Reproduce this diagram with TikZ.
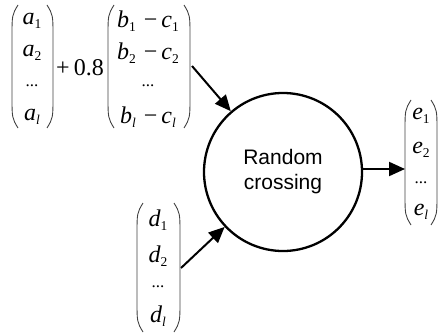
\documentclass[tikz,border=0pt]{standalone}
\usepackage{fontspec}
\setmainfont{Liberation Serif}
\newfontfamily\sansf{Liberation Sans}
\usetikzlibrary{arrows.meta}
\newcommand\vs[2]{{\itshape #1}\raisebox{-0.14em}{\fontsize{13.5}{13.5}\selectfont\itshape #2}}
\newcommand\vn[2]{{\itshape #1}\raisebox{-0.14em}{\fontsize{13.5}{13.5}\selectfont #2}}
\newcommand\rowdots{{\fontsize{17}{17}\selectfont ...}}
\newcommand\mns{\hspace{8pt}−\hspace{4pt}}
\newcommand\bigparen[4]{%
  \draw[paren] ({#1+(#4)},#2) .. controls (#1,{#2+10}) .. (#1,{#2+32}) -- (#1,{#3-32}) .. controls (#1,{#3-10}) .. ({#1+(#4)},#3);}
\begin{document}
\begin{tikzpicture}[x=1pt,y=-1pt,
  paren/.style={line width=0.9pt,black!75},
  entry/.style={inner sep=0pt,font=\fontsize{24}{24}\selectfont},
  arr/.style={line width=2pt,-{Triangle[length=16pt,width=14pt]}},
  bubble/.style={circle,draw,line width=2.3pt,minimum size=158pt,inner sep=0pt,
    align=center,font=\sansf\fontsize{21}{25}\selectfont}]
\useasboundingbox (0,0) rectangle (441,334);
% vector a
\bigparen{12}{5}{128}{6}
\bigparen{53}{5}{128}{-6}
\node[entry] (a1) at (32,21) {\vn{a}{1}};
\node[entry] (a2) at (32,53) {\vn{a}{2}};
\node[entry] (a3) at (32,86) {\rowdots};
\node[entry] (a4) at (32,117) {\vs{a}{l}};
% plus 0.8
\node[entry] (k) at (80,68) {+\,0.8};
% vector b
\bigparen{108}{5}{128}{6}
\bigparen{190}{5}{128}{-6}
\node[entry] (b1) at (148,21) {\vn{b}{1}\mns\vn{c}{1}};
\node[entry] (b2) at (148,53) {\vn{b}{2}\mns\vn{c}{2}};
\node[entry] (b3) at (148,86) {\rowdots};
\node[entry] (b4) at (148,117) {\vs{b}{l}\mns\vs{c}{l}};
% vector d
\bigparen{137}{203}{332}{6}
\bigparen{180}{203}{332}{-6}
\node[entry] (d1) at (158,220) {\vn{d}{1}};
\node[entry] (d2) at (158,256) {\vn{d}{2}};
\node[entry] (d3) at (158,287) {\rowdots};
\node[entry] (d4) at (158,316) {\vs{d}{l}};
% vector e
\bigparen{405}{100}{225}{6}
\bigparen{437}{100}{225}{-6}
\node[entry] (e1) at (421,116) {\vn{e}{1}};
\node[entry] (e2) at (421,150) {\vn{e}{2}};
\node[entry] (e3) at (421,183) {\rowdots};
\node[entry] (e4) at (421,212) {\vs{e}{l}};
% circle
\node[bubble] (rc) at (283,172) {Random\\crossing};
% connectors
\coordinate (bout) at (192,66);
\coordinate (dout) at (181,268);
\coordinate (ein) at (405,169);
\draw[arr] (bout) -- (rc);
\draw[arr] (dout) -- (rc);
\draw[arr] (rc.east |- ein) -- (ein);
\end{tikzpicture}
\end{document}
